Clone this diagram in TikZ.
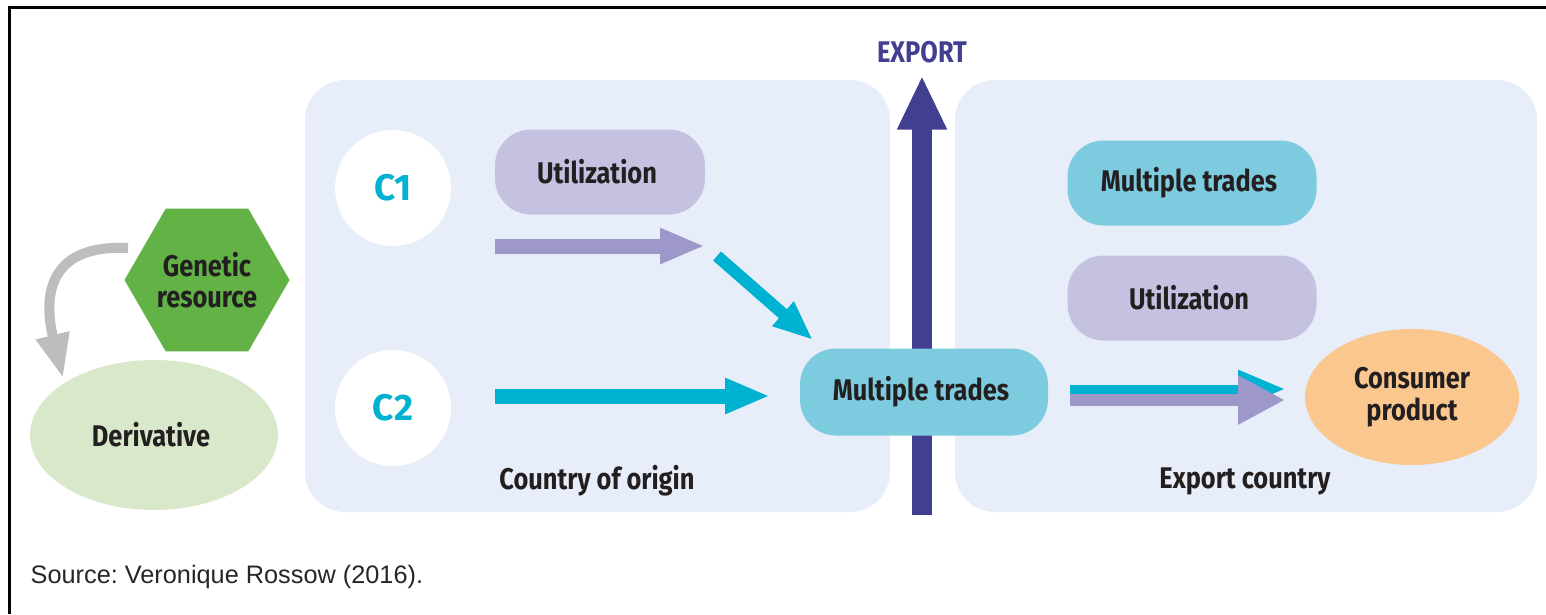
\documentclass[tikz,border=0pt]{standalone}
\usepackage{fontspec}
\setmainfont[FakeStretch=0.85]{Fira Sans}
\newfontfamily\widesans{Fira Sans}
\newfontfamily\sourcefont{Liberation Sans}
\usetikzlibrary{arrows.meta,positioning,shapes.geometric}
\usepackage{xcolor}
\frenchspacing

\definecolor{panelblue}{HTML}{E8EEF9}
\definecolor{utilfill}{HTML}{C5C1E1}
\definecolor{tradefill}{HTML}{7DCBDE}
\definecolor{cyanarrow}{HTML}{00B2D1}
\definecolor{purplearrow}{HTML}{9D98C9}
\definecolor{exportblue}{HTML}{433F90}
\definecolor{genegreen}{HTML}{62B246}
\definecolor{derivgreen}{HTML}{D9E8CA}
\definecolor{consumerorange}{HTML}{FAC78F}
\definecolor{grayarrow}{HTML}{BDBDBD}
\definecolor{inktext}{HTML}{231F20}

\begin{document}
\begin{tikzpicture}[x=0.1mm, y=-0.1mm,
  every node/.style={
    inner sep=0pt,
    align=center,
    text=inktext,
    font=\bfseries\fontsize{8.5}{9}\selectfont
  },
  panel/.style={rectangle, rounded corners=4mm, fill=panelblue,
    minimum height=43.2mm},
  pill/.style={rectangle, rounded corners=3.6mm,
    minimum width=21mm, minimum height=8.5mm},
  country/.style={circle, fill=white, minimum size=11.6mm, text=cyanarrow,
    font=\widesans\bfseries\fontsize{10.5}{12}\selectfont},
  blockarrow/.style={line width=1.5mm, -{Triangle[width=3.3mm, length=4.5mm]}}
]
    \useasboundingbox (0,0) rectangle (1546,614);
    \draw[line width=0.3mm] (9,614) -- (9,7) -- (1546,7);

    %panels
    \node (origin_panel) [panel, minimum width=58.5mm, shift={(597.5,296)}] {};
    \node (export_panel) [panel, minimum width=58.2mm, shift={(1246,296)}] {};
    \node (origin_label) [shift={(597,481)}] {Country of origin};
    \node (export_label) [shift={(1245,481)}] {Export country};

    %source side
    \node (genetic_resource) [regular polygon, regular polygon sides=6,
        minimum size=16.5mm, fill=genegreen, shift={(207,280)}]
    {
        Genetic\\resource
    };
    \node (derivative) [ellipse, minimum width=24.8mm, minimum height=15mm,
        fill=derivgreen, shift={(154,435)}]
    {
        Derivative
    };
    \coordinate (genetic_out) at (128,248);
    \coordinate (derivative_in) at (63,378);
    \draw[grayarrow, line width=1mm, -{Triangle[width=3.2mm, length=4.4mm]}]
        (genetic_out) .. controls (45,244) and (44,300) .. (derivative_in);

    %country of origin
    \node (c_one) [country, shift={(393,188)}] {C1};
    \node (c_two) [country, shift={(393,408)}] {C2};
    \node (utilization_origin) [pill, fill=utilfill, shift={(600,172)}]
    {
        Utilization
    };

    %export arrow
    \node (export_text) [text=exportblue, shift={(922,52)}] {EXPORT};
    \coordinate (export_foot) at (922,515);
    \draw[exportblue, line width=2mm, -{Triangle[width=4.6mm, length=5.4mm]}]
        (export_foot) -- (export_text.south) [shorten >=1.2mm];

    \node (trades_origin) [pill, fill=tradefill, minimum width=24.8mm,
        minimum height=8.7mm, shift={(924,392)}]
    {
        Multiple trades
    };

    %export country
    \node (trades_export) [pill, fill=tradefill, minimum width=24.9mm,
        shift={(1192,183)}]
    {
        Multiple trades
    };
    \node (utilization_export) [pill, fill=utilfill, minimum width=24.9mm,
        shift={(1192,298)}]
    {
        Utilization
    };
    \node (consumer_product) [ellipse, minimum width=21.4mm, minimum height=13.6mm,
        fill=consumerorange, shift={(1412,397)}]
    {
        Consumer\\product
    };

    \coordinate (c_one_from) at (495,246);
    \coordinate (c_one_to) at (705,246);
    \coordinate (bend_from) at (717,256);
    \coordinate (bend_to) at (813,340);
    \coordinate (c_two_from) at (495,396);
    \coordinate (c_two_to) at (770,396);
    \coordinate (ship_cyan_from) at (1070,389);
    \coordinate (ship_cyan_to) at (1285,389);
    \coordinate (ship_purple_from) at (1070,400);
    \coordinate (ship_purple_to) at (1285,400);

    \draw[blockarrow, purplearrow] (c_one_from) -- (c_one_to);
    \draw[cyanarrow, line width=1.2mm, -{Triangle[width=3mm, length=4mm]}]
        (bend_from) -- (bend_to);
    \draw[blockarrow, cyanarrow] (c_two_from) -- (c_two_to);
    \draw[cyanarrow, line width=0.9mm, -{Triangle[width=3.6mm, length=4.7mm]}]
        (ship_cyan_from) -- (ship_cyan_to);
    \draw[purplearrow, line width=1.2mm, -{Triangle[width=4.6mm, length=4.7mm]}]
        (ship_purple_from) -- (ship_purple_to);

    \node (source_note) [anchor=west, font=\sourcefont\fontsize{7.2}{8}\selectfont,
        text=black!85, shift={(30,577)}]
    {
        Source: Veronique Rossow (2016).
    };

\end{tikzpicture}
\end{document}
